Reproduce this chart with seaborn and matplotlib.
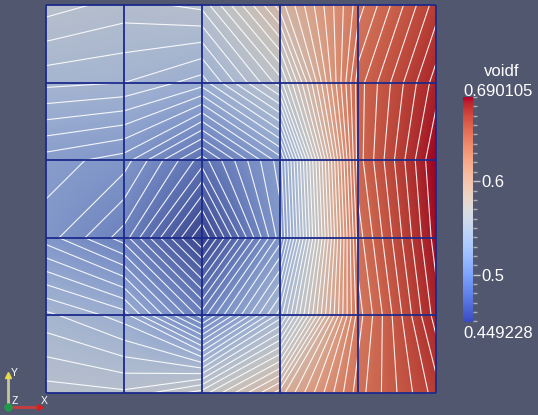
import numpy as np
import matplotlib
matplotlib.use("Agg")
import matplotlib.pyplot as plt
from matplotlib.colors import ListedColormap, Normalize
import seaborn as sns

# voidf at the 6x6 mesh nodes; rows from the top edge (y=5) down to y=0, columns x=0..5
voidf_rows = [
    [0.55598, 0.55105, 0.55489, 0.59430, 0.63810, 0.67094],
    [0.53846, 0.53682, 0.52861, 0.56146, 0.64905, 0.68189],
    [0.51219, 0.50671, 0.47934, 0.51219, 0.64905, 0.690105],
    [0.50671, 0.49029, 0.449228, 0.50671, 0.64357, 0.68737],
    [0.53846, 0.52861, 0.49029, 0.53956, 0.63810, 0.68189],
    [0.55598, 0.55434, 0.56693, 0.59978, 0.64357, 0.67094],
]
node_x = [0, 1, 2, 3, 4, 5]
node_y = [5, 4, 3, 2, 1, 0]
bar_ticks = [0.5, 0.6]
n_contours = 43
field_name = "voidf"

BG = "#525770"
EDGE = "#1c2a8c"

sns.set_style("white")
plt.rcParams["font.family"] = ["Liberation Sans", "DejaVu Sans"]

Z = np.array(voidf_rows)[::-1]          # bottom row first
xs = np.array(node_x, dtype=float)
ys = np.array(node_y[::-1], dtype=float)
vmin, vmax = Z.min(), Z.max()
norm = Normalize(vmin, vmax)

# surface colours: the cool-warm map under diffuse lighting, with the cool half a bit greyer
base = sns.color_palette("coolwarm", as_cmap=True)
t = np.linspace(0, 1, 256)
rgb = base(t)[:, :3]
lum = rgb @ np.array([0.299, 0.587, 0.114])
w = 0.3 * np.clip((0.7 - t) / 0.2, 0, 1)
rgb = (rgb * (1 - w[:, None]) + lum[:, None] * w[:, None]) * 0.88
shaded = ListedColormap(np.clip(rgb, 0, 1))

W, H = 538, 415
fig = plt.figure(figsize=(W / 100, H / 100), dpi=100, facecolor=BG)

# mesh surface
ax = fig.add_axes([46 / W, (H - 393) / H, 390 / W, 388 / H])
ax.set_facecolor(BG)
dx = (xs[1] - xs[0]) / 2
dy = (ys[1] - ys[0]) / 2
ax.imshow(Z, cmap=shaded, norm=norm, origin="lower",
          extent=(xs[0] - dx, xs[-1] + dx, ys[0] - dy, ys[-1] + dy),
          interpolation="bilinear", interpolation_stage="data", aspect="auto")
levels = np.linspace(vmin, vmax, n_contours + 2)[1:-1]
ax.contour(xs, ys, Z, levels=levels, colors="white", linewidths=0.8, alpha=0.9)
ax.vlines(xs, ys[0], ys[-1], colors=EDGE, linewidth=1.3, clip_on=False)
ax.hlines(ys, xs[0], xs[-1], colors=EDGE, linewidth=1.3, clip_on=False)
ax.set_xlim(xs[0], xs[-1])
ax.set_ylim(ys[0], ys[-1])
ax.set_xticks([])
ax.set_yticks([])
for s in ax.spines.values():
    s.set_visible(False)

# scalar bar
cax = fig.add_axes([463 / W, (H - 322) / H, 10 / W, 225 / H])
sm = plt.cm.ScalarMappable(norm=norm, cmap=base)
cb = fig.colorbar(sm, cax=cax)
cb.outline.set_visible(False)
cb.set_ticks(bar_ticks)
cb.set_ticklabels([f"{v:g}" for v in bar_ticks])
cb.ax.yaxis.set_minor_locator(matplotlib.ticker.MultipleLocator(0.01))
cb.ax.tick_params(which="major", length=5, width=1, color="#c8c8c8",
                  labelcolor="white", labelsize=12, pad=1)
cb.ax.tick_params(which="minor", length=3, width=1, color="#b0b0b0")
fig.text(502 / W, 1 - 72 / H, field_name, color="white", fontsize=12,
         ha="center", va="center")
fig.text(463 / W, 1 - 91 / H, f"{vmax:.6f}", color="white", fontsize=12,
         ha="left", va="center")
fig.text(463 / W, 1 - 334 / H, f"{vmin:.6f}", color="white", fontsize=12,
         ha="left", va="center")

# orientation triad
tri = fig.add_axes([0, 0, 1, 1])
tri.set_xlim(0, W)
tri.set_ylim(H, 0)
tri.axis("off")
ox, oy = 8, 407
tri.plot([ox, ox], [oy, 377], color="#c9c79a", lw=2, solid_capstyle="butt")
tri.plot([ox], [375], marker="^", color="#e6d84a", markersize=5)
tri.plot([ox, 38], [oy, oy], color="#c83c3c", lw=2, solid_capstyle="butt")
tri.plot([40], [oy], marker=">", color="#d42020", markersize=5)
tri.plot([ox], [oy], marker="o", color="#1f9a4a", markersize=5)
tri.text(11, 373, "Y", color="white", fontsize=7.5, va="center")
tri.text(12, 401, "Z", color="white", fontsize=7.5, va="center")
tri.text(41, 401, "X", color="white", fontsize=7.5, va="center")

fig.savefig("out.png", dpi=100, facecolor=BG)
